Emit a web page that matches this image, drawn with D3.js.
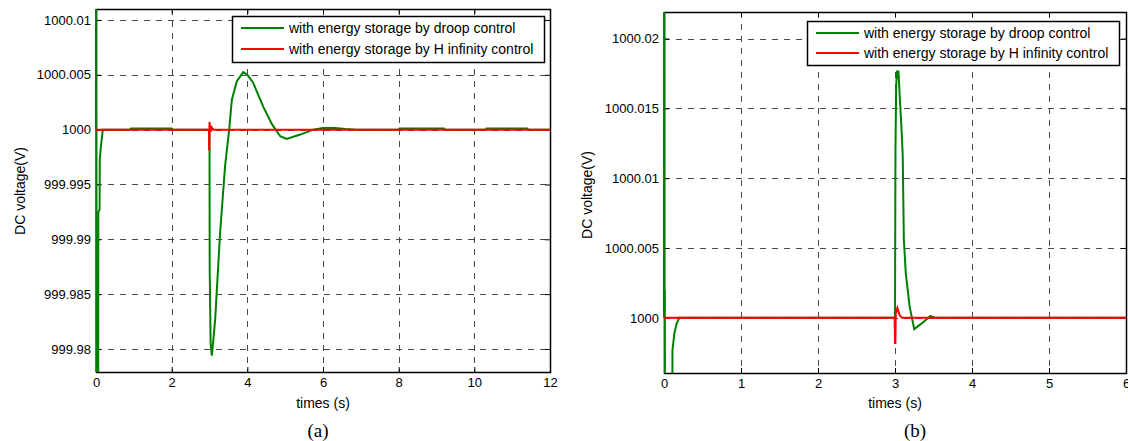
<!DOCTYPE html>
<html>
<head>
<meta charset="utf-8">
<script src="https://cdn.jsdelivr.net/npm/d3@7"></script>
<style>
  html, body { margin: 0; padding: 0; background: #fff; }
  svg { display: block; }
  text { font-family: "Liberation Sans", Arial, sans-serif; fill: #000; }
  text.caption { font-family: "Liberation Serif", "Times New Roman", serif; }
</style>
</head>
<body>
<svg id="chart" width="1128" height="441"></svg>
<script>
// ---------- Data ----------
const seriesNames = ["with energy storage by droop control", "with energy storage by H infinity control"];
const seriesColors = ["#008000", "#ff0000"];
const axisTitleX = "times (s)";
const axisTitleY = "DC voltage(V)";

// Panel (a)
const timeTicksA = [0, 2, 4, 6, 8, 10, 12];
const voltTicksA = [999.98, 999.985, 999.99, 999.995, 1000, 1000.005, 1000.01];
const voltTickLabelsA = ["999.98", "999.985", "999.99", "999.995", "1000", "1000.005", "1000.01"];
const droopTimeA = [0, 0.002, 0.01, 0.055, 0.062, 0.095, 0.1, 0.13, 0.18, 0.9, 0.92, 2.0, 2.02, 3.0, 3.005, 3.03, 3.06, 3.08, 3.15, 3.28, 3.41, 3.52, 3.59, 3.72, 3.89, 4.0, 4.15, 4.42, 4.65, 4.87, 5.04, 5.4, 5.74, 6.0, 6.3, 6.6, 6.9, 8.0, 8.02, 9.2, 9.22, 10.3, 10.32, 11.4, 11.42, 12];
const droopVoltA = [1000, 1000.03, 999.96, 999.96, 999.9925, 999.9927, 999.9973, 999.9985, 1000, 1000, 1000.0001, 1000.0001, 1000, 1000, 999.9873, 999.9805, 999.9794, 999.98, 999.9827, 999.9906, 999.9966, 1000, 1000.0027, 1000.0044, 1000.00525, 1000.005, 1000.0043, 1000.0021, 1000.0005, 999.9994, 999.99915, 999.99955, 1000, 1000.00015, 1000.00015, 1000.00005, 1000, 1000, 1000.0001, 1000.0001, 1000, 1000, 1000.0001, 1000.0001, 1000, 1000];
const hinfTimeA = [0, 2.985, 2.99, 2.995, 3.0, 3.01, 3.03, 3.06, 3.1, 12];
const hinfVoltA = [1000, 1000, 999.9982, 999.9982, 1000.0007, 1000.0003, 999.9998, 1000.0002, 1000, 1000];

// Panel (b)
const timeTicksB = [0, 1, 2, 3, 4, 5, 6];
const voltTicksB = [1000, 1000.005, 1000.01, 1000.015, 1000.02];
const voltTickLabelsB = ["1000", "1000.005", "1000.01", "1000.015", "1000.02"];
const droopTimeB = [0, 0.002, 0.005, 0.01, 0.015, 0.105, 0.11, 0.135, 0.165, 0.2, 3.0, 3.006, 3.015, 3.025, 3.035, 3.045, 3.06, 3.08, 3.1, 3.115, 3.14, 3.19, 3.25, 3.35, 3.46, 3.52, 6];
const droopVoltB = [1000, 1000.05, 1000.0019, 1000.0019, 999.98, 999.98, 999.9977, 999.9989, 999.9996, 1000, 1000, 1000.012, 1000.0165, 1000.0177, 1000.0171, 1000.0177, 1000.016, 1000.014, 1000.0117, 1000.0056, 1000.0032, 1000.0008, 999.99919, 999.99962, 1000.00014, 1000, 1000];
const hinfTimeB = [0, 2.995, 3.0, 3.005, 3.01, 3.03, 3.06, 3.09, 6];
const hinfVoltB = [1000, 1000, 999.9982, 999.9982, 1000.0003, 1000.0007, 1000.0002, 1000, 1000];

// ---------- Drawing ----------
const svg = d3.select("#chart");

function zip(t, v) { return t.map((d, i) => [d, v[i]]); }

function drawPanel(cfg, idx) {
  const x = d3.scaleLinear().domain(cfg.xDomain).range([cfg.left, cfg.right]);
  const y = d3.scaleLinear().domain(cfg.yDomain).range([cfg.bottom, cfg.top]);
  const g = svg.append("g");

  const clipId = "clip" + idx;
  svg.append("clipPath").attr("id", clipId).append("rect")
    .attr("x", cfg.left - 1).attr("y", cfg.top)
    .attr("width", cfg.right - cfg.left + 1).attr("height", cfg.bottom - cfg.top);

  // grid
  const grid = g.append("g").attr("stroke", "#4a4a4a").attr("stroke-width", 1).attr("stroke-dasharray", "6,6");
  cfg.xTicks.filter(t => t > cfg.xDomain[0] && t < cfg.xDomain[1]).forEach(t => {
    grid.append("line").attr("x1", Math.round(x(t)) + 0.5).attr("x2", Math.round(x(t)) + 0.5)
      .attr("y1", cfg.top).attr("y2", cfg.bottom);
  });
  cfg.yTicks.forEach(t => {
    grid.append("line").attr("y1", Math.round(y(t)) + 0.5).attr("y2", Math.round(y(t)) + 0.5)
      .attr("x1", cfg.left).attr("x2", cfg.right);
  });

  // axes (inward ticks)
  const fmtY = d => cfg.yLabels[cfg.yTicks.indexOf(d)];
  const axB = d3.axisBottom(x).tickValues(cfg.xTicks).tickSizeInner(-5).tickSizeOuter(0).tickPadding(6).tickFormat(d3.format("d"));
  const axL = d3.axisLeft(y).tickValues(cfg.yTicks).tickSizeInner(-5).tickSizeOuter(0).tickPadding(5).tickFormat(fmtY);
  const axT = d3.axisTop(x).tickValues(cfg.xTicks).tickSizeInner(-5).tickSizeOuter(0).tickFormat("");
  const axR = d3.axisRight(y).tickValues(cfg.yTicks).tickSizeInner(-5).tickSizeOuter(0).tickFormat("");
  const styleAxis = sel => {
    sel.select(".domain").remove();
    sel.selectAll("line").attr("stroke", "#000");
    sel.selectAll("text").attr("font-size", 13).attr("fill", "#000");
  };
  g.append("g").attr("transform", `translate(0,${cfg.bottom})`).call(axB).call(styleAxis);
  g.append("g").attr("transform", `translate(${cfg.left},0)`).call(axL).call(styleAxis);
  g.append("g").attr("transform", `translate(0,${cfg.top})`).call(axT).call(styleAxis);
  g.append("g").attr("transform", `translate(${cfg.right},0)`).call(axR).call(styleAxis);

  // frame
  g.append("rect").attr("x", cfg.left + 0.5).attr("y", cfg.top + 0.5)
    .attr("width", cfg.right - cfg.left).attr("height", cfg.bottom - cfg.top)
    .attr("fill", "none").attr("stroke", "#000").attr("stroke-width", 1.5);

  // lines (drawn over the frame, as in the original)
  const line = d3.line().x(d => x(d[0])).y(d => y(d[1]));
  const lg = g.append("g").attr("clip-path", `url(#${clipId})`);
  lg.append("path").datum(zip(cfg.droopT, cfg.droopV))
    .attr("fill", "none").attr("stroke", seriesColors[0]).attr("stroke-width", 2).attr("d", line);
  lg.append("path").datum(zip(cfg.hinfT, cfg.hinfV))
    .attr("fill", "none").attr("stroke", seriesColors[1]).attr("stroke-width", 2).attr("d", line);

  // axis titles
  g.append("text").attr("x", (cfg.left + cfg.right) / 2).attr("y", 408)
    .attr("text-anchor", "middle").attr("font-size", 14).text(axisTitleX);
  g.append("text").attr("transform", `translate(${cfg.yTitleX},${cfg.yTitleY}) rotate(-90)`)
    .attr("text-anchor", "middle").attr("font-size", 14).text(axisTitleY);
  g.append("text").attr("class", "caption").attr("x", cfg.capX).attr("y", 437).attr("text-anchor", "middle")
    .attr("font-size", 19).text(cfg.caption);

  // legend
  const L = cfg.legend;
  g.append("rect").attr("x", L.x + 0.5).attr("y", L.y + 0.5).attr("width", L.w).attr("height", L.h)
    .attr("fill", "#fff").attr("stroke", "#000").attr("stroke-width", 1.5);
  seriesNames.forEach((name, i) => {
    const yy = L.y + L.row0 + i * L.rowStep;
    g.append("line").attr("x1", L.x + 9).attr("x2", L.x + 52).attr("y1", yy).attr("y2", yy)
      .attr("stroke", seriesColors[i]).attr("stroke-width", 2);
    g.append("text").attr("x", L.x + 57).attr("y", yy).attr("dy", "0.35em")
      .attr("font-size", 14).text(name);
  });
}

drawPanel({
  left: 96, right: 550, top: 9, bottom: 372,
  xDomain: [0, 12], yDomain: [999.9779, 1000.011],
  xTicks: timeTicksA, yTicks: voltTicksA, yLabels: voltTickLabelsA,
  droopT: droopTimeA, droopV: droopVoltA, hinfT: hinfTimeA, hinfV: hinfVoltA,
  yTitleX: 25, yTitleY: 191, capX: 318, caption: "(a)",
  legend: { x: 232, y: 16, w: 312, h: 46, row0: 12, rowStep: 21 }
}, 0);

drawPanel({
  left: 664, right: 1126, top: 12, bottom: 373,
  xDomain: [0, 6], yDomain: [999.99605, 1000.0219],
  xTicks: timeTicksB, yTicks: voltTicksB, yLabels: voltTickLabelsB,
  droopT: droopTimeB, droopV: droopVoltB, hinfT: hinfTimeB, hinfV: hinfVoltB,
  yTitleX: 592, yTitleY: 195, capX: 915, caption: "(b)",
  legend: { x: 807, y: 21, w: 312, h: 44, row0: 12, rowStep: 20 }
}, 1);
</script>
</body>
</html>
